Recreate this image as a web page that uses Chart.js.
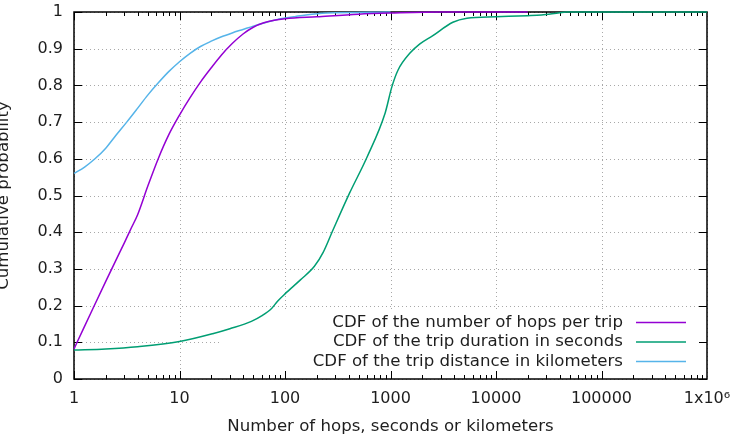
<!DOCTYPE html>
<html><head><meta charset="utf-8">
<script src="https://cdn.jsdelivr.net/npm/chart.js@4.4.1/dist/chart.umd.min.js"></script>
<style>html,body{margin:0;padding:0;background:#fff;overflow:hidden}#wrap{width:735px;height:438px;position:relative}canvas{display:block}</style>
</head><body><div id="wrap"><canvas id="c" width="735" height="438"></canvas></div>
<script>
// ---- data ----
const hopsX = [1, 1.07, 1.5, 2, 2.5, 3, 3.5, 4, 5, 6.3, 7.9, 10, 12.6, 15.8, 20, 25, 31.6, 40, 50, 63, 79, 100, 200, 500, 1000, 3000, 20000];
const hopsY = [0.082, 0.10, 0.19, 0.266, 0.324, 0.371, 0.412, 0.447, 0.525, 0.601, 0.665, 0.719, 0.7665, 0.809, 0.848, 0.883, 0.914, 0.940, 0.9585, 0.9705, 0.9775, 0.9815, 0.987, 0.994, 0.997, 1.0, 1.0];

const durX = [1, 2, 4, 10, 21, 30, 48, 60, 75, 85, 100, 140, 190, 230, 285, 410, 600, 890, 1030, 1180, 1530, 1900, 2500, 3900, 5300, 10000, 20000, 27000, 40000, 47000, 1000000];
const durY = [0.079, 0.082, 0.088, 0.102, 0.124, 0.137, 0.157, 0.172, 0.193, 0.212, 0.232, 0.27, 0.307, 0.345, 0.406, 0.507, 0.605, 0.725, 0.796, 0.842, 0.888, 0.913, 0.935, 0.972, 0.983, 0.987, 0.99, 0.992, 0.998, 1.0, 1.0];

const distX = [1, 1.26, 1.58, 2, 2.5, 3.16, 4, 5, 6.3, 7.9, 10, 12.6, 15.8, 20, 25, 31.6, 40, 50, 63, 79, 100, 126, 158, 250, 1000];
const distY = [0.56, 0.5775, 0.60, 0.629, 0.664, 0.70, 0.7375, 0.7735, 0.807, 0.8375, 0.8645, 0.8875, 0.906, 0.9205, 0.9325, 0.943, 0.9525, 0.9615, 0.970, 0.9775, 0.9835, 0.988, 0.992, 0.997, 1.0];

const seriesLabels = ["CDF of the number of hops per trip", "CDF of the trip duration in seconds", "CDF of the trip distance in kilometers"];
const seriesColors = ["#9400d3", "#009e73", "#56b4e9"];

const xTickValues = [1, 10, 100, 1000, 10000, 100000, 1000000];
const xTickLabels = ["1", "10", "100", "1000", "10000", "100000", "1x10\u2076"];
const yTickValues = [0, 0.1, 0.2, 0.3, 0.4, 0.5, 0.6, 0.7, 0.8, 0.9, 1];
const yTickLabels = ["0", "0.1", "0.2", "0.3", "0.4", "0.5", "0.6", "0.7", "0.8", "0.9", "1"];
const xTitle = "Number of hops, seconds or kilometers";
const yTitle = "Cumulative probability";

// ---- chart ----
const FONT = "'DejaVu Sans', sans-serif";
const TEXT = "#1e1e1e";
const toPts = (xs, ys) => xs.map((x, i) => ({x: x, y: ys[i]}));
const noPad = s => { s.paddingTop = 0; s.paddingBottom = 0; s.paddingLeft = 0; s.paddingRight = 0; };

const frame = {
  id: 'gnuframe',
  beforeDatasetsDraw(chart) {
    const ctx = chart.ctx, a = chart.chartArea, xs = chart.scales.x, ys = chart.scales.y;
    ctx.save();
    // dotted grid
    ctx.strokeStyle = '#a8a8a8';
    ctx.lineWidth = 1;
    ctx.setLineDash([1, 3]);
    xTickValues.forEach(v => {
      const px = Math.round(xs.getPixelForValue(v)) + 0.5;
      ctx.beginPath(); ctx.moveTo(px, a.top); ctx.lineTo(px, a.bottom); ctx.stroke();
    });
    yTickValues.forEach(v => {
      const py = Math.round(ys.getPixelForValue(v)) + 0.5;
      ctx.beginPath(); ctx.moveTo(a.left, py); ctx.lineTo(a.right, py); ctx.stroke();
    });
    ctx.setLineDash([]);
    // opaque key box
    ctx.fillStyle = '#fff';
    ctx.fillRect(a.right - 487, a.bottom - 69, 487, 69);
    // tick marks
    ctx.strokeStyle = '#000';
    ctx.lineWidth = 1;
    for (let d = 1; d < 1000000; d *= 10) {
      for (let m = 1; m <= 9; m++) {
        const px = Math.round(xs.getPixelForValue(d * m)) + 0.5;
        const len = m === 1 ? 8 : 4;
        ctx.beginPath();
        ctx.moveTo(px, a.bottom); ctx.lineTo(px, a.bottom - len);
        ctx.moveTo(px, a.top); ctx.lineTo(px, a.top + len);
        ctx.stroke();
      }
    }
    yTickValues.forEach(v => {
      const py = Math.round(ys.getPixelForValue(v)) + 0.5;
      ctx.beginPath();
      ctx.moveTo(a.left, py); ctx.lineTo(a.left + 8, py);
      ctx.moveTo(a.right, py); ctx.lineTo(a.right - 8, py);
      ctx.stroke();
    });
    // border
    ctx.lineWidth = 1.5;
    ctx.strokeRect(a.left, a.top, a.right - a.left, a.bottom - a.top);
    ctx.restore();
  },
  afterDatasetsDraw(chart) {
    const ctx = chart.ctx, a = chart.chartArea;
    ctx.save();
    ctx.font = "16.6px " + FONT;
    ctx.textAlign = 'right';
    ctx.textBaseline = 'middle';
    const rows = [a.bottom - 56.5, a.bottom - 37, a.bottom - 17.5];
    chart.data.datasets.forEach((ds, i) => {
      ctx.fillStyle = TEXT;
      ctx.fillText(ds.label, a.right - 84, rows[i]);
      ctx.strokeStyle = ds.borderColor;
      ctx.lineWidth = 1.5;
      ctx.beginPath();
      ctx.moveTo(a.right - 71, rows[i]);
      ctx.lineTo(a.right - 21, rows[i]);
      ctx.stroke();
    });
    ctx.restore();
  }
};

new Chart(document.getElementById('c'), {
  type: 'line',
  data: {
    datasets: [
      {label: seriesLabels[0], data: toPts(hopsX, hopsY), borderColor: seriesColors[0]},
      {label: seriesLabels[1], data: toPts(durX, durY), borderColor: seriesColors[1]},
      {label: seriesLabels[2], data: toPts(distX, distY), borderColor: seriesColors[2]}
    ]
  },
  options: {
    responsive: false,
    animation: false,
    events: [],
    layout: {padding: {top: 12, right: 28, left: 0, bottom: 0}},
    datasets: {line: {borderWidth: 1.5, pointRadius: 0, fill: false, cubicInterpolationMode: 'monotone', clip: false}},
    plugins: {legend: {display: false}, tooltip: {enabled: false}},
    scales: {
      x: {
        type: 'logarithmic', min: 1, max: 1000000,
        afterBuildTicks: s => { s.ticks = xTickValues.map(v => ({value: v, major: true})); },
        afterFit: s => { s.height = 59; noPad(s); },
        grid: {display: false, drawTicks: false},
        border: {display: false},
        ticks: {
          autoSkip: false, maxRotation: 0, padding: 10, color: TEXT,
          font: {family: FONT, size: 16},
          callback: v => xTickLabels[xTickValues.indexOf(v)]
        },
        title: {display: true, text: xTitle, color: TEXT, font: {family: FONT, size: 16.6}, padding: {top: 0, bottom: 1}}
      },
      y: {
        type: 'linear', min: 0, max: 1,
        afterBuildTicks: s => { s.ticks = yTickValues.map(v => ({value: v})); },
        afterFit: s => { s.width = 74; noPad(s); },
        grid: {display: false, drawTicks: false},
        border: {display: false},
        ticks: {
          padding: 11, color: TEXT,
          font: {family: FONT, size: 16},
          callback: v => yTickLabels[yTickValues.indexOf(v)]
        },
        title: {display: true, text: yTitle, color: TEXT, font: {family: FONT, size: 16.6}, padding: {top: -6, bottom: 0}}
      }
    }
  },
  plugins: [frame]
});
</script>
</body></html>
